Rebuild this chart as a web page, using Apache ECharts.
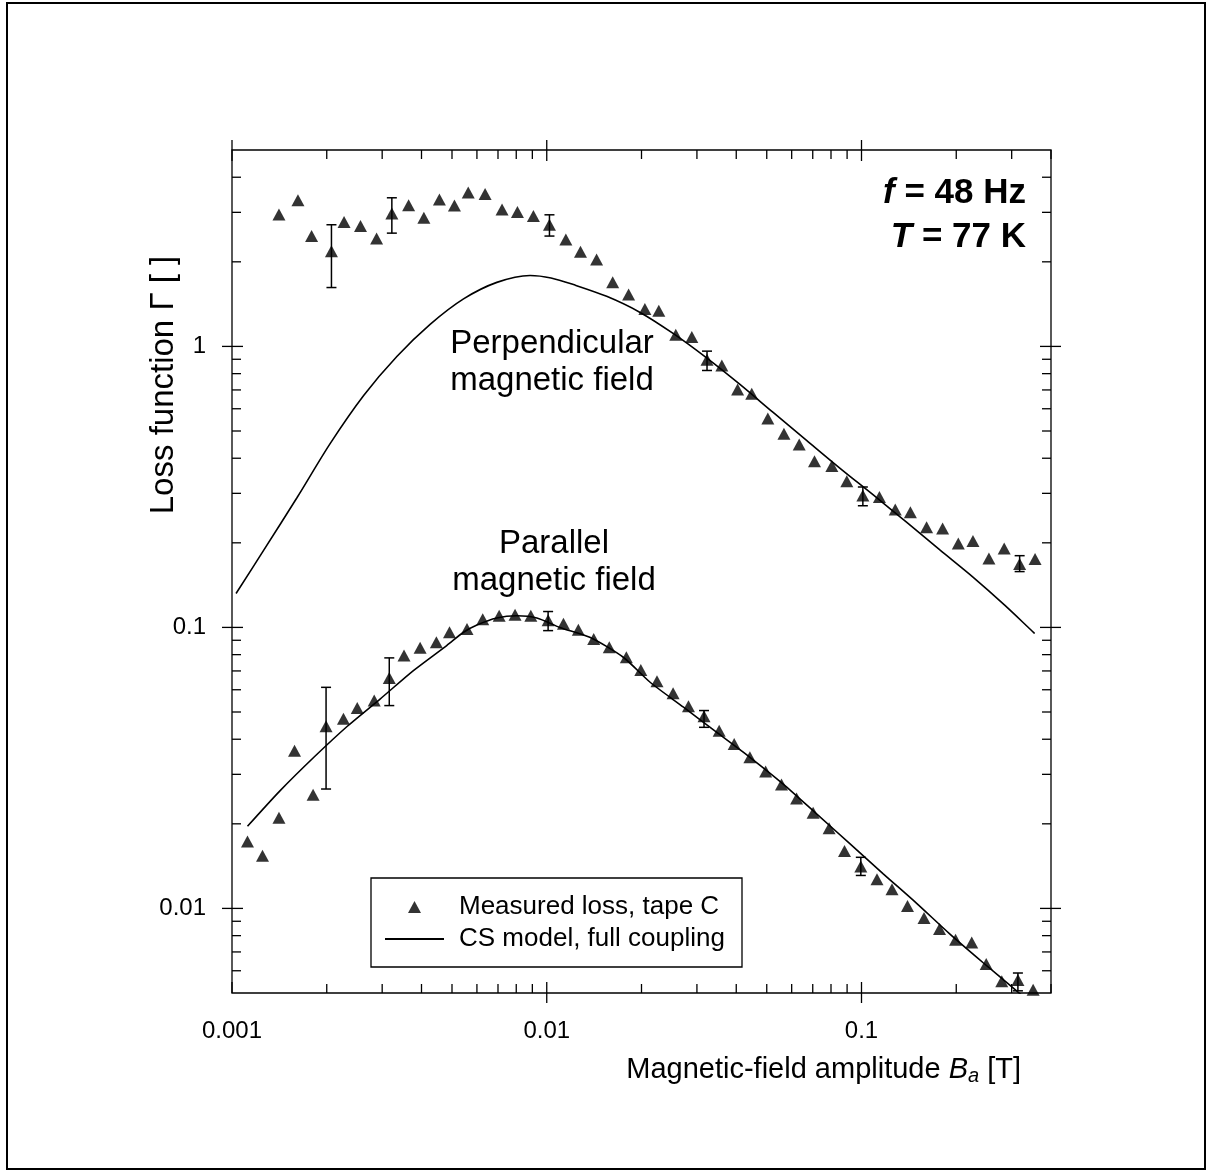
<!DOCTYPE html>
<html>
<head>
<meta charset="utf-8">
<script src="https://cdn.jsdelivr.net/npm/echarts@6/dist/echarts.min.js"></script>
<style>
html, body { margin: 0; padding: 0; background: #fff; }
#chart { width: 1212px; height: 1172px; }
</style>
</head>
<body>
<div id="chart"></div>
<script>
// measured loss, perpendicular field
var perpB = [0.00141, 0.00162, 0.00179, 0.00207, 0.00227, 0.00256, 0.00288, 0.00322, 0.00364, 0.00407,
  0.00456, 0.00509, 0.00563, 0.00637, 0.00721, 0.00807, 0.00907, 0.0102, 0.0115, 0.0128,
  0.0144, 0.0162, 0.0182, 0.0205, 0.0227, 0.0257, 0.0289, 0.0323, 0.0360, 0.0404,
  0.0448, 0.0504, 0.0567, 0.0634, 0.0709, 0.0805, 0.0898, 0.101, 0.114, 0.128,
  0.143, 0.161, 0.181, 0.203, 0.226, 0.254, 0.284, 0.318, 0.356];
var perpLoss = [2.95, 3.31, 2.47, 2.18, 2.77, 2.68, 2.42, 2.97, 3.18, 2.87,
  3.33, 3.17, 3.53, 3.49, 3.07, 3.01, 2.91, 2.71, 2.40, 2.17,
  2.04, 1.69, 1.53, 1.36, 1.34, 1.10, 1.08, 0.897, 0.856, 0.703,
  0.679, 0.554, 0.489, 0.448, 0.390, 0.375, 0.331, 0.295, 0.291, 0.263,
  0.257, 0.227, 0.225, 0.199, 0.203, 0.176, 0.191, 0.168, 0.175];
var perpErrB = [0.00207, 0.00322, 0.0102, 0.0323, 0.101, 0.318];
var perpErrLow = [1.62, 2.53, 2.47, 0.821, 0.271, 0.158];
var perpErrHigh = [2.71, 3.38, 2.94, 0.962, 0.316, 0.180];

// measured loss, parallel field
var parB = [0.00112, 0.00125, 0.00141, 0.00158, 0.00181, 0.00199, 0.00226, 0.00250, 0.00283, 0.00316,
  0.00352, 0.00396, 0.00446, 0.00491, 0.00558, 0.00626, 0.00706, 0.00793, 0.00890, 0.0101,
  0.0113, 0.0126, 0.0141, 0.0158, 0.0179, 0.0199, 0.0224, 0.0252, 0.0282, 0.0316,
  0.0353, 0.0394, 0.0442, 0.0496, 0.0557, 0.0622, 0.0702, 0.0789, 0.0883, 0.0995,
  0.112, 0.125, 0.140, 0.158, 0.177, 0.199, 0.224, 0.249, 0.279, 0.314, 0.351];
var parLoss = [0.0173, 0.0154, 0.0210, 0.0364, 0.0254, 0.0445, 0.0473, 0.0517, 0.0549, 0.0661,
  0.0794, 0.0846, 0.0886, 0.0961, 0.0988, 0.107, 0.110, 0.111, 0.110, 0.106,
  0.103, 0.0982, 0.0910, 0.0850, 0.0783, 0.0706, 0.0643, 0.0583, 0.0524, 0.0483,
  0.0429, 0.0385, 0.0345, 0.0307, 0.0276, 0.0246, 0.0219, 0.0193, 0.0160, 0.0141,
  0.0127, 0.0117, 0.0102, 0.00924, 0.00845, 0.00774, 0.00757, 0.00634, 0.00550, 0.00556, 0.00513];
var parErrB = [0.00199, 0.00316, 0.0101, 0.0316, 0.0995, 0.314];
var parErrLow = [0.0266, 0.0527, 0.0974, 0.0441, 0.0131, 0.00509];
var parErrHigh = [0.0612, 0.0779, 0.1139, 0.0506, 0.0152, 0.00589];

// CS model curves
var perpModelB = [0.00103, 0.00126, 0.00161, 0.00205, 0.00262, 0.00334, 0.00426, 0.00544, 0.00694, 0.00885,
  0.01032, 0.01215, 0.0155, 0.0198, 0.0252, 0.0322, 0.0411, 0.0524, 0.0669, 0.0853,
  0.109, 0.139, 0.177, 0.226, 0.285, 0.355];
var perpModelLoss = [0.132, 0.188, 0.290, 0.451, 0.669, 0.921, 1.198, 1.476, 1.690, 1.789,
  1.753, 1.660, 1.507, 1.321, 1.112, 0.910, 0.732, 0.582, 0.463, 0.369,
  0.296, 0.237, 0.189, 0.151, 0.120, 0.0951];
var parModelB = [0.00112, 0.00142, 0.00182, 0.00232, 0.00296, 0.00377, 0.00481, 0.00544, 0.00600, 0.00694,
  0.00803, 0.00930, 0.0110, 0.0137, 0.0175, 0.0213, 0.0272, 0.0347, 0.0442, 0.0564,
  0.0720, 0.0918, 0.117, 0.150, 0.191, 0.243, 0.311, 0.368];
var parModelLoss = [0.0196, 0.0262, 0.0345, 0.0444, 0.0557, 0.0702, 0.0862, 0.0961, 0.102, 0.108,
  0.110, 0.108, 0.100, 0.0922, 0.0783, 0.0638, 0.0520, 0.0423, 0.0345, 0.0277,
  0.0217, 0.0170, 0.0133, 0.0104, 0.0081, 0.00642, 0.00509, 0.00432];

var xMin = 0.001, xMax = 0.4;
var yMin = 0.005, yMax = 5;
var FONT = 'Liberation Sans, Arial, sans-serif';
var MEAS = 'Measured loss, tape C';
var MODEL = 'CS model, full coupling';

function zip(a, b) { return a.map(function (v, i) { return [v, b[i]]; }); }
function zip3(a, b, c) { return a.map(function (v, i) { return [v, b[i], c[i]]; }); }
function isDecade(v) { var l = Math.log10(v); return Math.abs(l - Math.round(l)) < 1e-6; }

// tick positions on both log axes (1..9 per decade)
var tickData = [];
for (var e = -3; e <= 0; e++) {
  for (var k = 1; k <= 9; k++) {
    var v = k * Math.pow(10, e);
    if (v >= xMin * 0.999 && v <= xMax * 1.001) tickData.push([v, 1, 0, k === 1 ? 1 : 0]);
    if (v > yMin * 1.001 && v < yMax * 0.999) tickData.push([0.01, v, 1, k === 1 ? 1 : 0]);
  }
}

function renderTick(params, api) {
  var cs = params.coordSys;
  var major = api.value(3) === 1;
  var lenIn = major ? 11 : 9, lenOut = major ? 10 : 0;
  var st = { stroke: '#000', lineWidth: 1.3 };
  var kids = [];
  if (api.value(2) === 0) {
    var xv = api.value(0);
    var px = api.coord([xv, 1])[0];
    var bot = cs.y + cs.height, top = cs.y;
    var outBot = (major && xv > xMin * 1.01) ? lenOut : 0;
    kids.push({ type: 'line', shape: { x1: px, y1: bot + outBot, x2: px, y2: bot - lenIn }, style: st });
    kids.push({ type: 'line', shape: { x1: px, y1: top - lenOut, x2: px, y2: top + lenIn }, style: st });
  } else {
    var py = api.coord([0.01, api.value(1)])[1];
    var l = cs.x, r = cs.x + cs.width;
    kids.push({ type: 'line', shape: { x1: l - lenOut, y1: py, x2: l + lenIn, y2: py }, style: st });
    kids.push({ type: 'line', shape: { x1: r + lenOut, y1: py, x2: r - lenIn, y2: py }, style: st });
  }
  return { type: 'group', children: kids };
}

function renderErr(params, api) {
  var hi = api.coord([api.value(0), api.value(2)]);
  var lo = api.coord([api.value(0), api.value(1)]);
  var hw = 5;
  var st = { stroke: '#000', lineWidth: 1.5 };
  return {
    type: 'group',
    children: [
      { type: 'line', shape: { x1: hi[0], y1: hi[1], x2: lo[0], y2: lo[1] }, style: st },
      { type: 'line', shape: { x1: hi[0] - hw, y1: hi[1], x2: hi[0] + hw, y2: hi[1] }, style: st },
      { type: 'line', shape: { x1: lo[0] - hw, y1: lo[1], x2: lo[0] + hw, y2: lo[1] }, style: st }
    ]
  };
}

var legendText = { fontSize: 26, fontFamily: FONT, color: '#000' };

var chart = echarts.init(document.getElementById('chart'));

var option = {
  backgroundColor: '#fff',
  animation: false,
  grid: {
    left: 232, top: 150, width: 819, height: 843,
    show: true, borderColor: '#000', borderWidth: 1.3, backgroundColor: 'transparent'
  },
  xAxis: {
    type: 'log', logBase: 10, min: xMin, max: xMax,
    axisLine: { show: false }, axisTick: { show: false }, splitLine: { show: false },
    axisLabel: {
      margin: 26, color: '#000', fontSize: 24, fontFamily: FONT,
      formatter: function (v) { return isDecade(v) ? String(v) : ''; }
    }
  },
  yAxis: {
    type: 'log', logBase: 10, min: yMin, max: yMax,
    axisLine: { show: false }, axisTick: { show: false }, splitLine: { show: false },
    axisLabel: {
      margin: 26, color: '#000', fontSize: 24, fontFamily: FONT,
      formatter: function (v) { return isDecade(v) ? String(v) : ''; }
    }
  },
  legend: [
    {
      left: 408, top: 894, padding: 0, selectedMode: false,
      itemWidth: 13, itemHeight: 12, icon: 'triangle',
      textStyle: Object.assign({ padding: [0, 0, 0, 33] }, legendText),
      data: [MEAS]
    },
    {
      left: 385, top: 926, padding: 0, selectedMode: false,
      itemWidth: 59, itemHeight: 2, icon: 'rect',
      textStyle: Object.assign({ padding: [0, 0, 0, 10] }, legendText),
      data: [MODEL]
    }
  ],
  graphic: [
    { type: 'rect', shape: { x: 7, y: 3, width: 1198, height: 1166 },
      style: { fill: 'none', stroke: '#000', lineWidth: 2 }, silent: true },
    { type: 'rect', shape: { x: 371, y: 878, width: 371, height: 89 },
      style: { fill: 'none', stroke: '#000', lineWidth: 1.3 }, silent: true },
    { type: 'text', x: 552, y: 362,
      style: { text: 'Perpendicular\nmagnetic field', fontSize: 33, fontFamily: FONT, fill: '#000',
        align: 'center', verticalAlign: 'middle', lineHeight: 37 } },
    { type: 'text', x: 554, y: 562,
      style: { text: 'Parallel\nmagnetic field', fontSize: 33, fontFamily: FONT, fill: '#000',
        align: 'center', verticalAlign: 'middle', lineHeight: 37 } },
    { type: 'text', x: 1026, y: 193,
      style: { text: '{i|f}{b| = 48 Hz}', align: 'right', verticalAlign: 'middle',
        rich: {
          i: { fontSize: 35, fontWeight: 'bold', fontStyle: 'italic', fontFamily: FONT, fill: '#000' },
          b: { fontSize: 35, fontWeight: 'bold', fontFamily: FONT, fill: '#000' }
        } } },
    { type: 'text', x: 1026, y: 237,
      style: { text: '{i|T}{b| = 77 K}', align: 'right', verticalAlign: 'middle',
        rich: {
          i: { fontSize: 35, fontWeight: 'bold', fontStyle: 'italic', fontFamily: FONT, fill: '#000' },
          b: { fontSize: 35, fontWeight: 'bold', fontFamily: FONT, fill: '#000' }
        } } },
    { type: 'text', x: 164, y: 385, rotation: Math.PI / 2,
      style: { text: 'Loss function \u0393 [ ]', fontSize: 33, fontFamily: FONT, fill: '#000',
        align: 'center', verticalAlign: 'middle' } },
    { type: 'text', x: 1021, y: 1070,
      style: { text: '{n|Magnetic-field amplitude }{i|B}{s|a}{n| [T]}', align: 'right', verticalAlign: 'middle',
        rich: {
          n: { fontSize: 29, fontFamily: FONT, fill: '#000' },
          i: { fontSize: 29, fontFamily: FONT, fontStyle: 'italic', fill: '#000' },
          s: { fontSize: 20, fontFamily: FONT, fontStyle: 'italic', fill: '#000',
            verticalAlign: 'bottom', padding: [13, 0, 0, 0] }
        } } }
  ],
  series: [
    { name: 'ticks', type: 'custom', renderItem: renderTick, data: tickData,
      encode: { x: 0, y: 1 }, clip: false, silent: true, z: 1 },
    { name: MODEL, type: 'line', data: zip(perpModelB, perpModelLoss), symbol: 'none',
      smooth: 0.3, lineStyle: { color: '#000', width: 1.6 }, itemStyle: { color: '#000' }, z: 2 },
    { name: MODEL, type: 'line', data: zip(parModelB, parModelLoss), symbol: 'none',
      smooth: 0.25, lineStyle: { color: '#000', width: 1.6 }, itemStyle: { color: '#000' }, z: 2 },
    { name: 'errPerp', type: 'custom', renderItem: renderErr, data: zip3(perpErrB, perpErrLow, perpErrHigh),
      encode: { x: 0, y: [1, 2] }, silent: true, z: 3 },
    { name: 'errPar', type: 'custom', renderItem: renderErr, data: zip3(parErrB, parErrLow, parErrHigh),
      encode: { x: 0, y: [1, 2] }, silent: true, z: 3 },
    { name: MEAS, type: 'scatter', data: zip(perpB, perpLoss), symbol: 'triangle', symbolSize: [13, 12],
      itemStyle: { color: '#000' }, z: 4 },
    { name: MEAS, type: 'scatter', data: zip(parB, parLoss), symbol: 'triangle', symbolSize: [13, 12],
      itemStyle: { color: '#000' }, z: 4 }
  ]
};

chart.setOption(option);
</script>
</body>
</html>
